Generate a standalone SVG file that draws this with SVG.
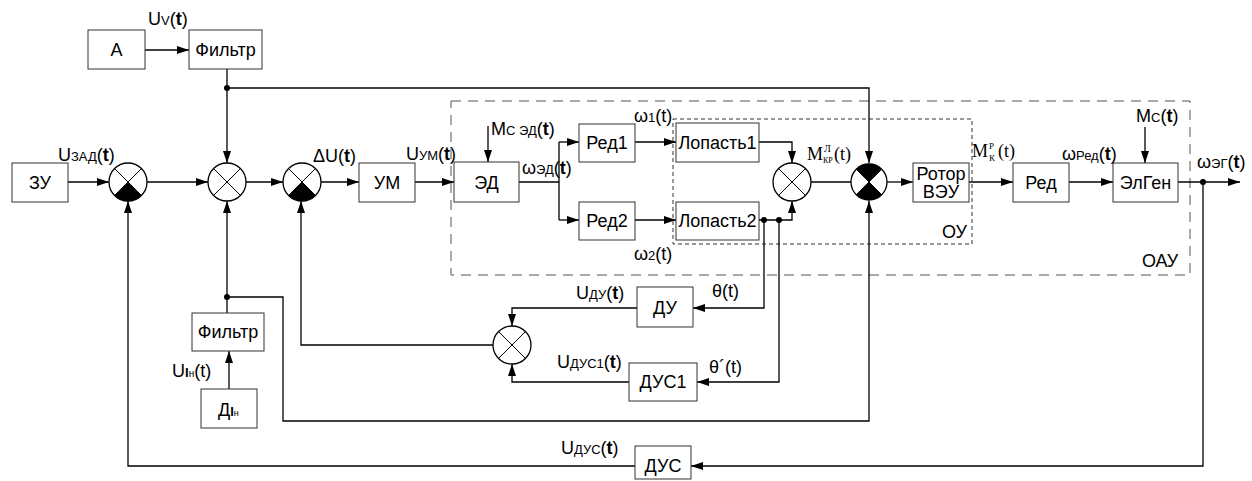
<svg xmlns="http://www.w3.org/2000/svg" width="1252" height="481" viewBox="0 0 1252 481">
<style>
.box{fill:#fff;stroke:#333;stroke-width:1}
.bt{font-family:"Liberation Sans",Arial,sans-serif;font-size:18px;fill:#000;text-anchor:middle}
.lbl{font-family:"Liberation Sans",Arial,sans-serif;font-size:18px;fill:#000}
.s{font-size:13px}
.ser{font-family:"Liberation Serif","Times New Roman",serif;font-size:18px;fill:#000}
.ln{fill:none;stroke:#000;stroke-width:1.3}
.ar{fill:none;stroke:#000;stroke-width:1.3;marker-end:url(#ah)}
.sum{fill:#fff;stroke:#000;stroke-width:1.3}
.x{stroke:#000;stroke-width:1}
.blk{fill:#000}
.dot{fill:#000}
.d1{fill:none;stroke:#555;stroke-width:1;stroke-dasharray:10 7}
.d2{fill:none;stroke:#333;stroke-width:1;stroke-dasharray:4 3}
</style>
<defs>
<marker id="ah" viewBox="0 0 12 8" refX="12" refY="4" markerWidth="12" markerHeight="8" markerUnits="userSpaceOnUse" orient="auto">
<path d="M0,0 L12,4 L0,8 Z" fill="#000"/>
</marker>
</defs>

<!-- dashed regions -->
<g id="oau">
<rect class="d1" x="451" y="101" width="739" height="174"/>
<text class="lbl" x="1142" y="267">ОАУ</text>
</g>
<g id="ou">
<rect class="d2" x="673" y="119" width="299" height="125"/>
<text class="lbl" x="942" y="238">ОУ</text>
</g>

<!-- connectors -->
<g id="connectors">
<line class="ar" x1="145" y1="50" x2="189" y2="50"/>
<line class="ar" x1="227" y1="69" x2="227" y2="163"/>
<polyline class="ar" points="227,88 869,88 869,163"/>
<line class="ar" x1="68" y1="182" x2="109" y2="182"/>
<line class="ar" x1="147" y1="182" x2="208" y2="182"/>
<line class="ar" x1="246" y1="182" x2="283" y2="182"/>
<line class="ar" x1="321" y1="182" x2="359" y2="182"/>
<line class="ar" x1="415" y1="182" x2="454" y2="182"/>
<line class="ar" x1="488" y1="126" x2="488" y2="162"/>
<line class="ln" x1="519" y1="182" x2="559" y2="182"/>
<line class="ln" x1="559" y1="142" x2="559" y2="220"/>
<line class="ar" x1="559" y1="142" x2="579" y2="142"/>
<line class="ar" x1="559" y1="220" x2="579" y2="220"/>
<line class="ar" x1="635" y1="142" x2="676" y2="142"/>
<line class="ar" x1="635" y1="220" x2="676" y2="220"/>
<polyline class="ar" points="759,142 792,142 792,163"/>
<polyline class="ar" points="759,220 792,220 792,201"/>
<line class="ln" x1="811" y1="182" x2="851" y2="182"/>
<line class="ar" x1="887" y1="182" x2="913" y2="182"/>
<line class="ar" x1="969" y1="182" x2="1013" y2="182"/>
<line class="ar" x1="1069" y1="182" x2="1113" y2="182"/>
<line class="ar" x1="1145" y1="127" x2="1145" y2="163"/>
<line class="ar" x1="1178" y1="182" x2="1240" y2="182"/>
<polyline class="ar" points="1203,182 1203,466 691,466"/>
<polyline class="ar" points="635,466 128,466 128,201"/>
<polyline class="ar" points="764,220 764,308 693,308"/>
<polyline class="ar" points="637,308 512,308 512,326"/>
<polyline class="ar" points="779,220 779,382 697,382"/>
<polyline class="ar" points="629,382 512,382 512,364"/>
<polyline class="ar" points="493,345 301,345 301,201"/>
<line class="ar" x1="227" y1="313" x2="227" y2="201"/>
<polyline class="ar" points="227,297 283,297 283,421 869,421 869,201"/>
<line class="ar" x1="229" y1="389" x2="229" y2="351"/>
<circle class="dot" cx="227" cy="88" r="3"/>
<circle class="dot" cx="227" cy="297" r="3"/>
<circle class="dot" cx="764" cy="220" r="3"/>
<circle class="dot" cx="779" cy="220" r="3"/>
<circle class="dot" cx="1203" cy="182" r="3"/>
</g>

<!-- blocks -->
<g id="A"><rect class="box" x="88" y="30" width="57" height="39"/><text class="bt" x="116.5" y="56">A</text></g>
<g id="filter1"><rect class="box" x="189" y="30" width="73" height="39"/><text class="bt" x="225.5" y="56" font-size="16">Фильтр</text></g>
<g id="ZU"><rect class="box" x="12" y="163" width="56" height="39"/><text class="bt" x="40" y="189">ЗУ</text></g>
<g id="UM"><rect class="box" x="359" y="163" width="56" height="39"/><text class="bt" x="387" y="189">УМ</text></g>
<g id="ED"><rect class="box" x="454" y="162" width="65" height="40"/><text class="bt" x="486.5" y="189">ЭД</text></g>
<g id="Red1"><rect class="box" x="579" y="124" width="56" height="38"/><text class="bt" x="607" y="149">Ред1</text></g>
<g id="Red2"><rect class="box" x="579" y="202" width="56" height="38"/><text class="bt" x="607" y="227">Ред2</text></g>
<g id="Lop1"><rect class="box" x="676" y="123" width="83" height="39"/><text class="bt" x="717.5" y="149">Лопасть1</text></g>
<g id="Lop2"><rect class="box" x="676" y="202" width="83" height="38"/><text class="bt" x="717.5" y="227">Лопасть2</text></g>
<g id="Rotor"><rect class="box" x="913" y="163" width="56" height="39"/><text class="bt" x="941" y="180">Ротор</text><text class="bt" x="941" y="198">ВЭУ</text></g>
<g id="Red"><rect class="box" x="1013" y="163" width="56" height="39"/><text class="bt" x="1041" y="189">Ред</text></g>
<g id="ElGen"><rect class="box" x="1113" y="163" width="65" height="39"/><text class="bt" x="1145.5" y="189">ЭлГен</text></g>
<g id="DU"><rect class="box" x="637" y="287" width="56" height="40"/><text class="bt" x="665" y="314">ДУ</text></g>
<g id="DUS1"><rect class="box" x="629" y="363" width="68" height="38"/><text class="bt" x="663" y="388">ДУС1</text></g>
<g id="DUS"><rect class="box" x="635" y="446" width="56" height="33"/><text class="bt" x="663" y="472">ДУС</text></g>
<g id="filter2"><rect class="box" x="192" y="313" width="72" height="38"/><text class="bt" x="228" y="338" font-size="16">Фильтр</text></g>
<g id="DIn"><rect class="box" x="201" y="389" width="56" height="39"/><text class="lbl" x="218" y="416">Д<tspan font-weight="bold" font-size="13">I</tspan><tspan font-size="9">н</tspan></text></g>

<!-- summing junctions -->
<g id="sum1"><circle class="sum" cx="128" cy="182" r="19"/><path class="blk" d="M128,182 L114.6,195.4 A19,19 0 0 0 141.4,195.4 Z"/><line class="x" x1="114.6" y1="168.6" x2="141.4" y2="195.4"/><line class="x" x1="141.4" y1="168.6" x2="114.6" y2="195.4"/></g>
<g id="sum2"><circle class="sum" cx="227" cy="182" r="19"/><line class="x" x1="213.6" y1="168.6" x2="240.4" y2="195.4"/><line class="x" x1="240.4" y1="168.6" x2="213.6" y2="195.4"/></g>
<g id="sum3"><circle class="sum" cx="302" cy="182" r="19"/><path class="blk" d="M302,182 L288.6,195.4 A19,19 0 0 0 315.4,195.4 Z"/><line class="x" x1="288.6" y1="168.6" x2="315.4" y2="195.4"/><line class="x" x1="315.4" y1="168.6" x2="288.6" y2="195.4"/></g>
<g id="sum4"><circle class="sum" cx="512" cy="345" r="19"/><line class="x" x1="498.6" y1="331.6" x2="525.4" y2="358.4"/><line class="x" x1="525.4" y1="331.6" x2="498.6" y2="358.4"/></g>
<g id="sum5"><circle class="sum" cx="792" cy="182" r="19"/><line class="x" x1="778.6" y1="168.6" x2="805.4" y2="195.4"/><line class="x" x1="805.4" y1="168.6" x2="778.6" y2="195.4"/></g>
<g id="sum6"><circle class="sum" cx="869" cy="182" r="18"/><path class="blk" d="M869,182 L856.3,194.7 A18,18 0 0 0 881.7,194.7 Z M869,182 L856.3,169.3 A18,18 0 0 1 881.7,169.3 Z"/><line class="x" x1="856.3" y1="169.3" x2="881.7" y2="194.7"/><line class="x" x1="881.7" y1="169.3" x2="856.3" y2="194.7"/></g>

<!-- signal labels -->
<g id="labels">
<text class="lbl" x="148" y="25">U<tspan class="s">V</tspan>(<tspan font-weight="bold">t</tspan>)</text>
<text class="lbl" x="58" y="161">U<tspan class="s">ЗАД</tspan>(<tspan font-weight="bold">t</tspan>)</text>
<text class="lbl" x="313" y="162">ΔU(<tspan font-weight="bold">t</tspan>)</text>
<text class="lbl" x="406" y="160">U<tspan class="s">УМ</tspan>(<tspan font-weight="bold">t</tspan>)</text>
<text class="lbl" x="491" y="135">M<tspan class="s">С ЭД</tspan>(<tspan font-weight="bold">t</tspan>)</text>
<text class="lbl" x="522" y="174">ω<tspan class="s">ЭД</tspan>(<tspan font-weight="bold">t</tspan>)</text>
<text class="lbl" x="634" y="122">ω<tspan class="s">1</tspan>(t)</text>
<text class="lbl" x="634" y="260">ω<tspan class="s">2</tspan>(t)</text>
<text class="ser" x="807" y="160">M<tspan x="824" y="152" font-size="10">Л</tspan><tspan x="823" y="163" font-size="8">КР</tspan><tspan x="834" y="160">(t)</tspan></text>
<text class="ser" x="972" y="157">M<tspan x="989" y="149" font-size="9">Р</tspan><tspan x="989" y="161" font-size="9">К</tspan><tspan x="998" y="157">(t)</tspan></text>
<text class="lbl" x="1062" y="160">ω<tspan class="s">Ред</tspan>(<tspan font-weight="bold">t</tspan>)</text>
<text class="lbl" x="1136" y="122">M<tspan class="s">С</tspan>(<tspan font-weight="bold">t</tspan>)</text>
<text class="lbl" x="1197" y="168">ω<tspan class="s">ЭГ</tspan>(<tspan font-weight="bold">t</tspan>)</text>
<text class="lbl" x="576" y="299">U<tspan class="s">ДУ</tspan>(<tspan font-weight="bold">t</tspan>)</text>
<text class="lbl" x="712" y="297">θ(t)</text>
<text class="lbl" x="557" y="368">U<tspan class="s">ДУС1</tspan>(<tspan font-weight="bold">t</tspan>)</text>
<text class="lbl" x="709" y="373">θ´(t)</text>
<text class="lbl" x="561" y="454">U<tspan class="s">ДУС</tspan>(<tspan font-weight="bold">t</tspan>)</text>
<text class="lbl" x="172" y="377">U<tspan font-weight="bold" font-size="13">I</tspan><tspan font-size="10">н</tspan>(t)</text>
</g>
</svg>
